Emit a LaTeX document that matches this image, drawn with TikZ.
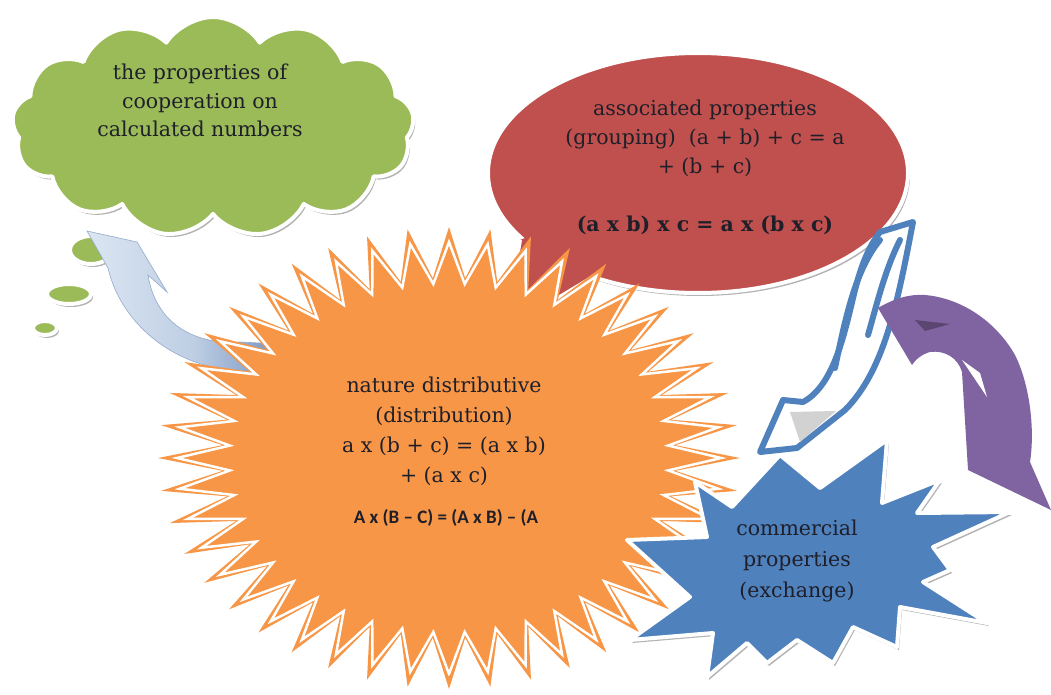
\documentclass[tikz,border=0pt]{standalone}
\usepackage{fontspec}
\setmainfont{DejaVu Serif}
\newfontfamily\calib{Carlito}
\usetikzlibrary{shapes.symbols,shapes.geometric,shadows}
\definecolor{ogreen}{HTML}{9BBB59}
\definecolor{ored}{HTML}{C0504D}
\definecolor{oorange}{HTML}{F79646}
\definecolor{oblue}{HTML}{4F81BD}
\definecolor{opurple}{HTML}{8064A2}
\definecolor{txtc}{HTML}{1F1F2A}
\definecolor{lightarrow}{HTML}{DCE6F2}
\definecolor{darkarrow}{HTML}{6586B8}
\begin{document}
\begin{tikzpicture}[x=1pt,y=-1pt,
  rim/.style={draw=white, line width=4pt, line join=round},
  shad/.style={drop shadow={shadow xshift=2pt,shadow yshift=-3pt,opacity=0.3,fill=black}},
  lbl/.style={text=txtc, align=center, font=\fontsize{20.5}{29}\selectfont, inner sep=0pt, anchor=base},
]
\useasboundingbox[fill=white] (0,0) rectangle (1051,695);

% ---------- green cloud callout ----------
\node[cloud, cloud puffs=13, cloud puff arc=115, cloud ignores aspect, minimum width=402pt, minimum height=220pt,
      fill=ogreen, rim, shad] (cloud) at (213,127) {};
\draw[fill=ogreen, rim, shad] (91,250) ellipse [x radius=21, y radius=14];
\draw[fill=ogreen, rim, shad] (69,294) ellipse [x radius=22, y radius=10];
\draw[fill=ogreen, rim, shad] (45,328) ellipse [x radius=12, y radius=7];
\node[lbl, font=\fontsize{20.5}{28.5}\selectfont] (cloudtext) at (200,137) {the properties of\\cooperation on\\calculated numbers};

% ---------- red ellipse callout ----------
\node[ellipse, minimum width=420pt, minimum height=240pt, fill=ored, rim, shad] (assoc) at (698,173) {};
\fill[ored] (520,240) -- (505,330) -- (593,277) -- (620,200) -- cycle;
\draw[white, line width=4pt] (520,240) -- (505,330) -- (593,277);
\node[lbl] (assoctext) at (705,231) {associated properties\\(grouping)~~(a + b) + c = a\\+ (b + c)\\[29pt]\textbf{(a x b) x c = a x (b x c)}};

% ---------- light blue curved arrow (sun -> cloud) ----------
\draw[left color=lightarrow, right color=darkarrow, middle color=lightarrow!75!darkarrow, draw=darkarrow!70, line width=0.6pt]
  (87,231) -- (137,242) -- (167,292) -- (148,275)
  .. controls (155,320) and (190,345) .. (240,342) -- (300,345) -- (300,374) -- (250,372)
  .. controls (170,370) and (120,320) .. (108,268) -- cycle;

% ---------- orange star ----------
\fill[oorange] plot[samples=89, domain=0:88, variable=\i]
  ({449 + (0.89+0.11*cos(180*\i))*291*cos(360/88*\i+90)}, {458 + (0.89+0.11*cos(180*\i))*231*sin(360/88*\i+90)}) -- cycle;
\draw[white, line width=2.5pt, line join=miter] plot[samples=89, domain=0:88, variable=\i]
  ({449 + (0.845+0.09*cos(180*\i))*291*cos(360/88*\i+90)}, {458 + (0.845+0.09*cos(180*\i))*231*sin(360/88*\i+90)}) -- cycle;
\node[lbl, font=\fontsize{20.5}{30}\selectfont] (sun) at (444,482) {nature distributive\\(distribution)\\a x (b + c) = (a x b)\\+ (a x c)};
\node[text=txtc, inner sep=0pt, anchor=base, font=\calib\bfseries\fontsize{19}{22}\selectfont] (sunbold) at (446,523) {A x (B – C) = (A x B) – (A};

% ---------- blue outlined curved arrow (ellipse -> explosion) ----------
\draw[oblue, fill=white, line width=6pt, line join=round]
  (913,222) .. controls (898,300) and (885,370) .. (845,410) -- (797,448) -- (760,452) -- (783,400) -- (803,402)
  .. controls (835,385) and (845,330) .. (855,290) .. controls (862,262) and (870,245) .. (880,232) -- cycle;
\fill[gray!35] (790,412) -- (836,411) -- (800,442) -- cycle;
\draw[oblue, line width=6pt, line cap=round] (880,240) .. controls (855,270) and (845,320) .. (835,368);
\draw[oblue, line width=6pt, line cap=round] (900,240) .. controls (885,270) and (878,300) .. (868,335);

% ---------- purple curved arrow ----------
\fill[opurple] (878,308) .. controls (895,298) and (910,294) .. (925,295)
  .. controls (960,298) and (995,320) .. (1015,355) .. controls (1030,385) and (1035,430) .. (1030,462)
  -- (1051,510) -- (968,470) -- (962,372) .. controls (958,358) and (945,350) .. (930,352)
  .. controls (922,354) and (915,360) .. (912,365) -- cycle;
\fill[white] (962,360) -- (980,373) -- (987,397) -- cycle;
\fill[opurple!70!black] (915,320) -- (950,324) -- (925,331) -- cycle;

% ---------- blue explosion ----------
\draw[fill=oblue, rim, shad] (695,482) -- (732,507) -- (780,455) -- (820,488) -- (887,440) -- (882,503)
  -- (940,480) -- (917,513) -- (1010,512) -- (933,547) -- (950,570) -- (923,582) -- (987,623)
  -- (900,607) -- (897,647) -- (853,627) -- (833,663) -- (797,640) -- (767,663) -- (747,643)
  -- (707,677) -- (713,633) -- (630,640) -- (690,597) -- (627,540) -- (707,537) -- cycle;
\node[lbl, font=\fontsize{20.5}{31}\selectfont] (comm) at (797,597) {commercial\\properties\\(exchange)};
\end{tikzpicture}
\end{document}
